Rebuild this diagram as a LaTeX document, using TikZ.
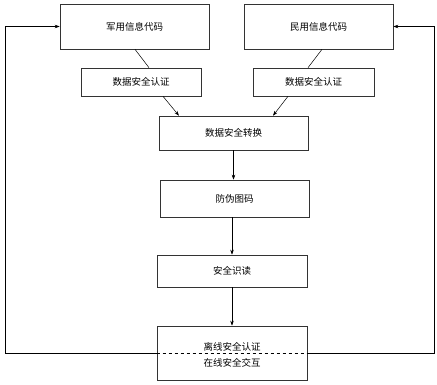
\documentclass[tikz,border=0pt]{standalone}
\usepackage{fontspec}
\setmainfont{Noto Sans CJK SC}
\usetikzlibrary{arrows.meta,calc,positioning}

\begin{document}
\begin{tikzpicture}[x=1pt,y=-1pt,>={Stealth[length=5pt,width=3.5pt]},line width=0.5pt,
  box/.style={draw=black!80,line width=0.6pt,inner sep=0pt,font=\fontsize{9.5}{11}\selectfont},
  txt/.style={inner sep=0pt,font=\fontsize{9.5}{11}\selectfont}]
  \useasboundingbox (0,0) rectangle (437,384);
  % source codes
  \node[box,minimum width=149pt,minimum height=45pt] (mil) at (134.5,26.5) {军用信息代码};
  \node[box,minimum width=149pt,minimum height=45pt] (civ) at (318.5,26.5) {民用信息代码};
  % authentication
  \node[box,minimum width=120pt,minimum height=28pt] (lauth) at (141,82) {数据安全认证};
  \node[box,minimum width=121pt,minimum height=28pt] (rauth) at (313.5,82) {数据安全认证};
  % main chain
  \node[box,minimum width=149pt,minimum height=34pt] (conv) at (233.5,133) {数据安全转换};
  \node[box,minimum width=149pt,minimum height=37pt] (code) at (234.5,198.5) {防伪图码};
  \node[box,minimum width=150pt,minimum height=32pt] (read) at (232,271) {安全识读};
  \node[box,minimum width=150pt,minimum height=54pt] (final) at (232,353) {};
  \node[txt] (offline) at (232,347) {离线安全认证};
  \node[txt] (online) at (232,363) {在线安全交互};
  % connectors
  \draw ([xshift=0.5pt]mil.south) -- ([xshift=8pt]lauth.north);
  \draw[->] ([xshift=22pt]lauth.south) -- ([xshift=-54.5pt]conv.north);
  \draw ([xshift=3.5pt]civ.south) -- ([xshift=-5.5pt]rauth.north);
  \draw[->] ([xshift=-25.5pt]rauth.south) -- ([xshift=39.5pt]conv.north);
  \draw[->] (conv.south) -- (conv.south |- code.north);
  \draw[->] (code.south -| read.north) -- (read.north);
  \draw[->] (read.south) -- (final.north);
  % feedback loop
  \coordinate (fbL) at (5,353);
  \coordinate (fbR) at (434,353);
  \draw[dashed] (final.west) -- (final.east);
  \draw[->] (final.west) -- (fbL) |- (mil.west);
  \draw[->] (final.east) -- (fbR) |- (civ.east);
\end{tikzpicture}
\end{document}
